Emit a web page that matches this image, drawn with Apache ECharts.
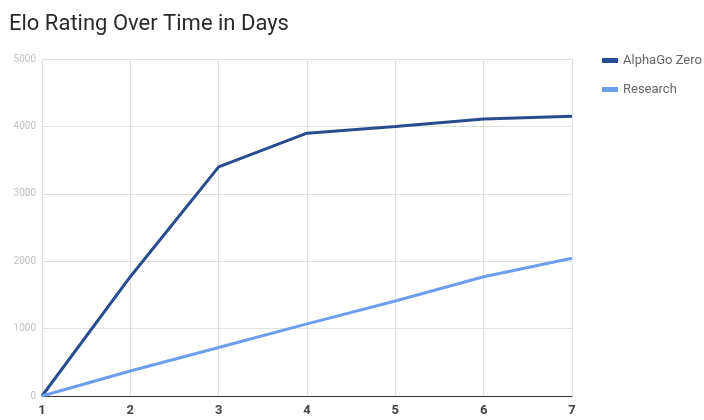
<!DOCTYPE html>
<html><head><meta charset="utf-8">
<script src="https://cdn.jsdelivr.net/npm/echarts@6/dist/echarts.min.js"></script>
<style>html,body{margin:0;padding:0;background:#fff}#c{width:704px;height:420px}</style>
</head><body><div id="c"></div>
<script>
const days = ['1','2','3','4','5','6','7'];
const alphaGoZero = [0, 1770, 3400, 3900, 4000, 4110, 4150];
const research = [0, 370, 720, 1070, 1410, 1770, 2045];
const yTicks = [0, 1000, 2000, 3000, 4000, 5000];

const chart = echarts.init(document.getElementById('c'), null, {renderer:'canvas'});
chart.setOption({
  animation: false,
  backgroundColor: '#fff',
  title: {
    text: 'Elo Rating Over Time in Days',
    left: 4, top: 8,
    textStyle: {fontFamily: 'Roboto', fontSize: 22, fontWeight: 'normal', color: '#2a2a2a'}
  },
  legend: {
    orient: 'vertical', left: 597, top: 49, itemGap: 16,
    itemWidth: 16, itemHeight: 5, icon: 'rect',
    textStyle: {fontFamily: 'Roboto', fontSize: 13, color: '#666'},
    data: ['AlphaGo Zero', 'Research']
  },
  grid: {left: 42, right: 132, top: 59, bottom: 24, containLabel: false},
  xAxis: {
    type: 'category', data: days, boundaryGap: false,
    axisLine: {show: true, lineStyle: {color: '#333', width: 1}},
    axisTick: {show: false},
    splitLine: {show: true, lineStyle: {color: '#e0e0e0', width: 1}},
    axisLabel: {fontFamily: 'Roboto', fontSize: 13, fontWeight: 'bold', color: '#444', margin: 8}
  },
  yAxis: {
    type: 'value', min: yTicks[0], max: yTicks[yTicks.length-1], interval: 1000,
    axisLine: {show: false}, axisTick: {show: false},
    splitLine: {show: true, lineStyle: {color: '#e0e0e0', width: 1}},
    axisLabel: {fontFamily: 'Roboto', fontSize: 10, color: '#c0c0c0', margin: 6, formatter: v => String(v)}
  },
  series: [
    {name: 'AlphaGo Zero', type: 'line', data: alphaGoZero, showSymbol: false,
     lineStyle: {color: '#284d8f', width: 3}, itemStyle: {color: '#284d8f'}},
    {name: 'Research', type: 'line', data: research, showSymbol: false,
     lineStyle: {color: '#6d9eeb', width: 3}, itemStyle: {color: '#6d9eeb'}}
  ]
});
</script></body></html>
